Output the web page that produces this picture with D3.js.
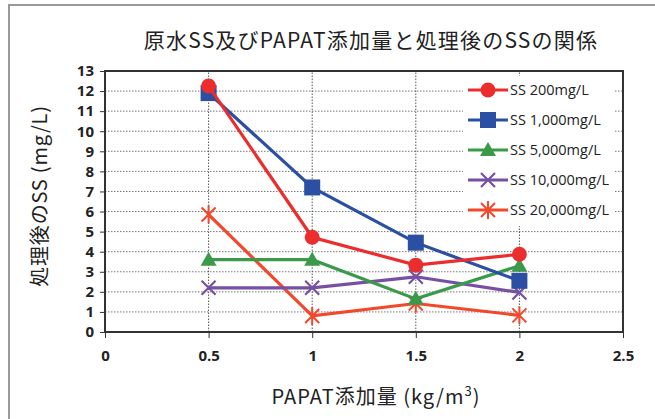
<!DOCTYPE html>
<html>
<head>
<meta charset="utf-8">
<script src="https://cdn.jsdelivr.net/npm/d3@7"></script>
<style>
  body { margin: 0; background: #fff; }
  text { font-family: "Noto Sans CJK JP", "Open Sans", sans-serif; fill: #222; }
</style>
</head>
<body>
<div id="chart"></div>
<script>
var width = 655;
var height = 419;

// dose of PAPAT (kg/m3)
var doses = [0.5, 1, 1.5, 2];

// SS after treatment for each raw-water SS
var ss200 = [12.25, 4.72, 3.33, 3.87];
var ss1000 = [11.9, 7.2, 4.45, 2.55];
var ss5000 = [3.6, 3.6, 1.65, 3.3];
var ss10000 = [2.2, 2.2, 2.75, 1.97];
var ss20000 = [5.85, 0.8, 1.42, 0.83];

var seriesNames = ["SS 200mg/L", "SS 1,000mg/L", "SS 5,000mg/L", "SS 10,000mg/L", "SS 20,000mg/L"];
var xTicks = [0, 0.5, 1, 1.5, 2, 2.5];
var yTicks = [0, 1, 2, 3, 4, 5, 6, 7, 8, 9, 10, 11, 12, 13];

var series = [
  { name: seriesNames[0], values: ss200, color: "#ec2d2d", marker: "circle" },
  { name: seriesNames[1], values: ss1000, color: "#2b4fa3", marker: "square" },
  { name: seriesNames[2], values: ss5000, color: "#3b9a4a", marker: "triangle" },
  { name: seriesNames[3], values: ss10000, color: "#7750a3", marker: "cross" },
  { name: seriesNames[4], values: ss20000, color: "#f2482b", marker: "star" }
];

var svg = d3.select("#chart").append("svg")
  .attr("width", width)
  .attr("height", height);

// outer chart frame
svg.append("rect")
  .attr("x", 9).attr("y", 5)
  .attr("width", 700).attr("height", 500)
  .attr("fill", "none")
  .attr("stroke", "#999")
  .attr("stroke-width", 2);

var x = d3.scaleLinear().domain([0, 2.5]).range([105, 623]);
var y = d3.scaleLinear().domain([0, 13]).range([332, 71]);

// grid lines
svg.append("g").selectAll("line").data(yTicks.slice(1, -1)).enter().append("line")
  .attr("x1", x(0)).attr("x2", x(2.5))
  .attr("y1", function(d) { return y(d); }).attr("y2", function(d) { return y(d); })
  .attr("stroke", "#777").attr("stroke-width", 1).attr("stroke-dasharray", "1.5,1.5");

svg.append("g").selectAll("line").data(xTicks.slice(1, -1)).enter().append("line")
  .attr("y1", y(0)).attr("y2", y(13))
  .attr("x1", function(d) { return x(d); }).attr("x2", function(d) { return x(d); })
  .attr("stroke", "#555").attr("stroke-width", 1).attr("stroke-dasharray", "1.5,1.5");

// legend background (hides grid)
svg.append("rect")
  .attr("x", 463).attr("y", 76)
  .attr("width", 152).attr("height", 150)
  .attr("fill", "#fff");

// axes
var yAxis = d3.axisLeft(y).tickValues(yTicks).tickSize(5).tickPadding(6).tickFormat(d3.format("d"));
var xAxis = d3.axisBottom(x).tickValues(xTicks).tickSize(6).tickPadding(12).tickFormat(function(d) { return String(d); });

var gy = svg.append("g").attr("transform", "translate(" + x(0) + ",0)").call(yAxis);
var gx = svg.append("g").attr("transform", "translate(0," + y(0) + ")").call(xAxis);

[gy, gx].forEach(function(g) {
  g.select(".domain").remove();
  g.selectAll(".tick line").attr("stroke", "#333").attr("stroke-width", 1);
  g.selectAll(".tick text")
    .attr("font-size", "15px")
    .attr("font-weight", "bold")
    .style("font-family", "'Open Sans', sans-serif")
    .attr("fill", "#222");
});

// plot frame
svg.append("rect")
  .attr("x", x(0)).attr("y", y(13))
  .attr("width", x(2.5) - x(0)).attr("height", y(0) - y(13))
  .attr("fill", "none")
  .attr("stroke", "#333").attr("stroke-width", 2);

// markers
function drawMarker(g, type, color, cx, cy) {
  if (type == "circle") {
    g.append("circle").attr("cx", cx).attr("cy", cy).attr("r", 7.5).attr("fill", color);
  } else if (type == "square") {
    g.append("rect").attr("x", cx - 8).attr("y", cy - 8).attr("width", 16).attr("height", 16).attr("fill", color);
  } else if (type == "triangle") {
    g.append("path").attr("d", "M" + cx + "," + (cy - 8) + "L" + (cx + 8) + "," + (cy + 6) + "L" + (cx - 8) + "," + (cy + 6) + "Z").attr("fill", color);
  } else if (type == "cross") {
    g.append("path").attr("d", "M" + (cx - 7) + "," + (cy - 7) + "L" + (cx + 7) + "," + (cy + 7) + "M" + (cx + 7) + "," + (cy - 7) + "L" + (cx - 7) + "," + (cy + 7))
      .attr("stroke", color).attr("stroke-width", 2.2).attr("fill", "none");
  } else {
    g.append("path").attr("d", "M" + (cx - 7) + "," + (cy - 7) + "L" + (cx + 7) + "," + (cy + 7) + "M" + (cx + 7) + "," + (cy - 7) + "L" + (cx - 7) + "," + (cy + 7) + "M" + cx + "," + (cy - 9) + "L" + cx + "," + (cy + 9))
      .attr("stroke", color).attr("stroke-width", 2).attr("fill", "none");
  }
}

var line = d3.line()
  .x(function(d, i) { return x(doses[i]); })
  .y(function(d) { return y(d); });

// draw last series first so red / blue sit on top
series.slice().reverse().forEach(function(s) {
  var g = svg.append("g");
  g.append("path").datum(s.values)
    .attr("d", line)
    .attr("fill", "none")
    .attr("stroke", s.color)
    .attr("stroke-width", 3.2);
  s.values.forEach(function(v, i) {
    drawMarker(g, s.marker, s.color, x(doses[i]), y(v));
  });
});

// legend
series.forEach(function(s, i) {
  var ly = 90 + i * 30;
  var g = svg.append("g");
  g.append("line").attr("x1", 468).attr("x2", 508).attr("y1", ly).attr("y2", ly)
    .attr("stroke", s.color).attr("stroke-width", 3.2);
  drawMarker(g, s.marker, s.color, 488, ly);
  g.append("text").attr("x", 510).attr("y", ly + 5)
    .attr("font-size", "14.5px")
    .style("font-family", "'Open Sans', sans-serif")
    .text(s.name);
});

// title
svg.append("text")
  .attr("x", 371).attr("y", 48)
  .attr("text-anchor", "middle")
  .attr("font-size", "21px")
  .attr("letter-spacing", "1.2px")
  .text("原水SS及びPAPAT添加量と処理後のSSの関係");

// axis titles
var xt = svg.append("text")
  .attr("x", 376).attr("y", 404)
  .attr("text-anchor", "middle")
  .attr("font-size", "20px")
  .attr("letter-spacing", "1px");
xt.append("tspan").text("PAPAT添加量 (kg/m");
xt.append("tspan").attr("font-size", "13px").attr("dy", -8).text("3");
xt.append("tspan").attr("dy", 8).text(")");

svg.append("text")
  .attr("transform", "translate(47,196)rotate(-90)")
  .attr("text-anchor", "middle")
  .attr("font-size", "20px")
  .attr("letter-spacing", "0.8px")
  .text("処理後のSS (mg/L)");
</script>
</body>
</html>
